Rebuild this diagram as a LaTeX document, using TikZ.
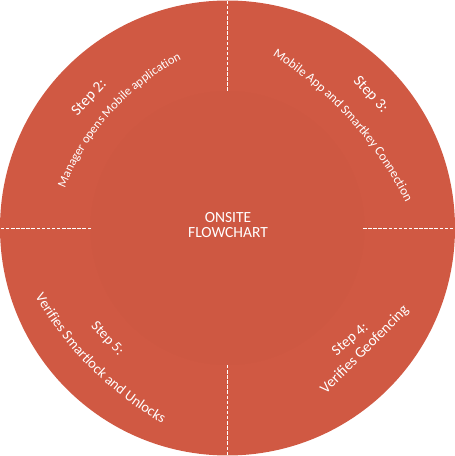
\documentclass[tikz,border=0pt]{standalone}
\usepackage{fontspec}
\setmainfont{Carlito}
\usetikzlibrary{calc,decorations.text}
\definecolor{disc}{RGB}{208,89,67}
\newcommand\labelfont{\fontsize{15.5}{18}\selectfont}
\newcommand\descfont{\fontsize{12.5}{15}\selectfont}

\begin{document}
\begin{tikzpicture}[x=1pt, y=1pt,
    cut/.style={white, line width=0.9pt, dash pattern=on 3.5pt off 1.6pt},
    steplabel/.style={white, anchor=base, inner sep=0pt, font=\labelfont},
    bend text/.style={decorate, decoration={text along path, text align=center, text color=white, text={#1}}}]
  \useasboundingbox (0,0) rectangle (455,456);
  \coordinate (center) at (227.5, 228);
  % the disc and its faint inner ring
  \fill[disc] (center) circle[radius=227.5];
  \fill[disc!99!black] (center) circle[radius=137];
  % quarter marks
  \coordinate (n-in) at (227.5, 365);  \coordinate (n-out) at (227.5, 456);
  \coordinate (w-in) at (91, 228);     \coordinate (w-out) at (0, 228);
  \coordinate (e-in) at (363, 228);    \coordinate (e-out) at (455, 228);
  \coordinate (s-in) at (227.5, 91);   \coordinate (s-out) at (227.5, 0);
  \draw[cut] (n-in) -- (n-out);
  \draw[cut] (w-in) -- (w-out);
  \draw[cut] (e-in) -- (e-out);
  \draw[cut] (s-in) -- (s-out);
  % middle
  \node[white, align=center, font=\fontsize{15.5}{15}\selectfont] (title) at (228, 231) {ONSITE\\FLOWCHART};
  % arc centres for the bent texts
  \coordinate (a2) at (294.4, 176.8);
  \coordinate (a3) at (74.2, 87);
  \coordinate (a5) at (334.1, 331.8);
  % step 2
  \node[steplabel, rotate=47] (s2) at ($(a2)+(138.5:270)$) {Step 2:};
  \path[bend text={|\descfont|Manager opens Mobile application}]
    ($(a2)+(167.8:247)$) arc[start angle=167.8, end angle=107.8, radius=247];
  % step 3
  \node[steplabel, rotate=-47.2] (s3) at ($(a3)+(42.8:400)$) {Step 3:};
  \path[bend text={|\fontsize{13}{15}\selectfont|Mobile App and Smartkey Connection}]
    ($(a3)+(72.2:371)$) arc[start angle=72.2, end angle=12.2, radius=371];
  % step 4
  \node[steplabel, rotate=40, font=\fontsize{15}{18}\selectfont] (s4) at (352.8, 113.2) {Step 4:};
  \node[steplabel, rotate=45, font=\fontsize{15}{18}\selectfont] (d4) at (367.6, 103.4) {Verifies Geofencing};
  % step 5
  \node[steplabel, rotate=-46.6, font=\fontsize{14.5}{18}\selectfont] (s5) at ($(a5)+(223.4:316)$) {Step 5:};
  \path[bend text={|\fontsize{14.5}{17}\selectfont|Verifies Smartlock and Unlocks}]
    ($(a5)+(195:345)$) arc[start angle=195, end angle=255, radius=345];
\end{tikzpicture}
\end{document}
